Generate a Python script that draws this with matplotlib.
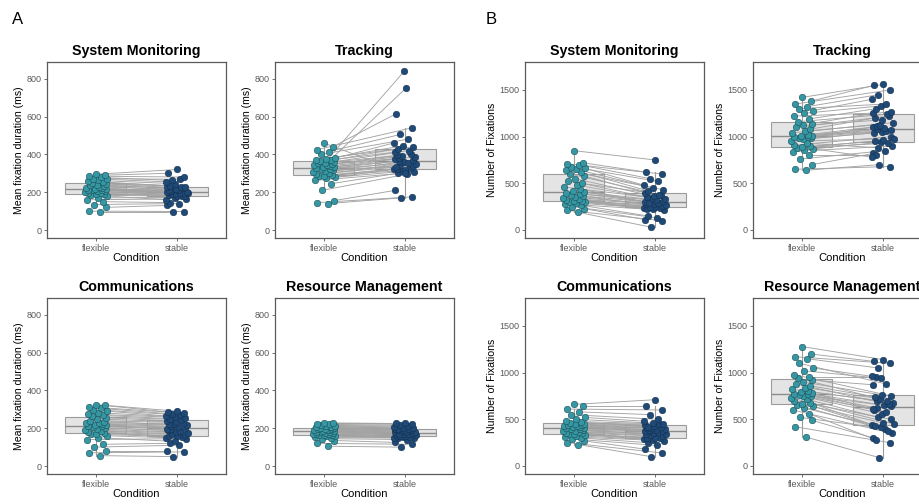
import matplotlib
matplotlib.use("Agg")
import matplotlib.pyplot as plt

plt.rcParams["font.family"] = ["Liberation Sans", "DejaVu Sans"]

conditions = ["flexible", "stable"]

# Panel A: mean fixation duration (ms), paired by participant
sm_dur_flex = [95, 100, 120, 135, 150, 160, 170, 180, 185, 188, 192, 195, 198, 202, 205, 208, 210, 212, 214,
               215, 218, 220, 224, 228, 232, 236, 240, 244, 248, 252, 258, 262, 268, 272, 278, 285, 290, 295]
sm_dur_stab = [95, 98, 130, 140, 145, 165, 172, 160, 178, 182, 185, 180, 190, 195, 188, 200, 198, 204, 196,
               202, 210, 205, 200, 215, 212, 222, 218, 226, 230, 235, 228, 245, 255, 268, 262, 280, 300, 320]

tr_dur_flex = [140, 145, 155, 210, 245, 262, 275, 280, 283, 288, 292, 296, 300, 305, 310, 315, 320, 325, 328,
               332, 335, 338, 342, 345, 348, 352, 356, 360, 364, 368, 372, 376, 380, 400, 415, 425, 440, 460]
tr_dur_stab = [170, 175, 210, 295, 300, 305, 310, 320, 330, 315, 325, 340, 345, 350, 360, 335, 355, 365, 370,
               375, 750, 380, 385, 390, 395, 400, 840, 410, 420, 430, 440, 445, 460, 480, 505, 540, 615, 300]

co_dur_flex = [55, 70, 80, 100, 115, 140, 150, 160, 168, 172, 176, 180, 185, 190, 195, 200, 205, 210, 212,
               215, 218, 222, 226, 230, 235, 240, 248, 255, 262, 268, 275, 282, 290, 298, 305, 312, 320, 325]
co_dur_stab = [50, 75, 80, 110, 120, 145, 130, 150, 155, 160, 158, 165, 170, 175, 180, 190, 185, 195, 200,
               198, 205, 210, 215, 222, 220, 230, 235, 240, 245, 250, 255, 260, 265, 270, 275, 280, 285, 290]

rm_dur_flex = [105, 120, 135, 145, 150, 155, 158, 160, 162, 163, 165, 168, 170, 172, 175, 177, 179, 181, 182,
               184, 186, 188, 190, 192, 194, 196, 198, 200, 202, 205, 208, 210, 213, 216, 220, 224, 228, 230]
rm_dur_stab = [100, 115, 125, 140, 148, 150, 152, 150, 155, 158, 160, 162, 158, 165, 168, 170, 172, 175, 176,
               178, 180, 172, 182, 185, 188, 190, 192, 195, 198, 194, 200, 203, 206, 210, 215, 220, 225, 230]

# Panel B: number of fixations, paired by participant
sm_num_flex = [190, 210, 230, 250, 265, 280, 290, 300, 305, 310, 315, 320, 330, 340, 350, 360, 375, 390, 400,
               408, 420, 440, 460, 480, 500, 520, 550, 580, 600, 620, 640, 650, 660, 680, 700, 710, 720, 850]
sm_num_stab = [30, 100, 110, 130, 150, 210, 230, 240, 235, 250, 220, 260, 245, 270, 280, 275, 290, 300, 310,
               305, 320, 290, 330, 340, 350, 380, 360, 400, 380, 420, 430, 450, 480, 520, 550, 600, 620, 750]

tr_num_flex = [640, 650, 700, 760, 800, 840, 860, 870, 880, 885, 895, 910, 930, 950, 970, 985, 990, 995, 1000,
               1005, 1010, 1020, 1040, 1060, 1080, 1100, 1120, 1140, 1160, 1190, 1220, 1250, 1280, 1300, 1320,
               1350, 1380, 1420]
tr_num_stab = [700, 680, 820, 850, 800, 900, 940, 780, 930, 960, 950, 1000, 880, 980, 1050, 1040, 1060, 1080,
               1070, 1100, 1090, 1110, 1150, 1130, 1200, 1220, 1180, 1250, 1240, 1300, 1260, 1330, 1400, 1350,
               1450, 1500, 1550, 1560]

co_num_flex = [230, 250, 270, 290, 300, 315, 325, 332, 338, 342, 348, 355, 362, 370, 378, 385, 392, 400, 405,
               412, 418, 422, 428, 432, 438, 442, 448, 455, 462, 470, 480, 500, 520, 550, 580, 610, 640, 660]
co_num_stab = [100, 140, 180, 220, 250, 270, 280, 290, 300, 305, 295, 320, 330, 340, 350, 345, 360, 370, 380,
               375, 385, 390, 400, 405, 410, 420, 430, 440, 445, 420, 450, 460, 480, 500, 550, 600, 640, 710]

rm_num_flex = [310, 420, 490, 520, 560, 600, 620, 640, 655, 665, 680, 700, 715, 730, 745, 755, 762, 768, 772,
               780, 790, 800, 820, 840, 860, 880, 900, 920, 940, 950, 980, 1020, 1050, 1100, 1150, 1170, 1200, 1280]
rm_num_stab = [90, 250, 300, 400, 280, 350, 420, 440, 380, 460, 430, 500, 520, 450, 560, 600, 580, 620, 640,
               610, 650, 700, 680, 720, 740, 660, 760, 870, 700, 950, 750, 940, 960, 880, 1050, 1100, 1120, 1140]

# horizontal jitter of the points (fixed so the paired lines stay put)
jitter = [0.05, -0.08, 0.12, -0.02, 0.09, -0.11, 0.03, 0.14, -0.06, 0.00, 0.10, -0.09, 0.06, -0.13, 0.02,
          0.11, -0.04, 0.08, -0.10, 0.13, -0.01, 0.07, -0.12, 0.04, 0.10, -0.07, 0.01, 0.12, -0.05, 0.09,
          -0.10, 0.03, 0.14, -0.03, 0.06, -0.08, 0.11, 0.00]

FLEX_COL = "#3597a3"
STAB_COL = "#1f4a78"
LINE_COL = "#a3a3a3"
BOX_FACE = "#e4e4e4"
BOX_EDGE = "#9c9c9c"
SPINE_COL = "#5a5a5a"


def draw_panel(ax, title, flex, stab, ylabel, ylim, yticks):
    xf = [1 + j for j in jitter[:len(flex)]]
    xs = [2 - j for j in jitter[:len(stab)]]

    ax.boxplot([flex, stab], positions=[1, 2], widths=0.75, patch_artist=True, showfliers=False,
               boxprops=dict(facecolor=BOX_FACE, edgecolor=BOX_EDGE, linewidth=0.8),
               medianprops=dict(color="#8c8c8c", linewidth=1.0),
               whiskerprops=dict(color=BOX_EDGE, linewidth=0.8),
               capprops=dict(linewidth=0), zorder=1)

    for a, b, ya, yb in zip(xf, xs, flex, stab):
        ax.plot([a, b], [ya, yb], color=LINE_COL, linewidth=0.65, zorder=2)

    ax.scatter(xf, flex, s=22, color=FLEX_COL, edgecolors="#1d4f57", linewidths=0.4, zorder=3)
    ax.scatter(xs, stab, s=22, color=STAB_COL, edgecolors="#13304d", linewidths=0.4, zorder=3)

    ax.set_xlim(0.4, 2.6)
    ax.set_ylim(*ylim)
    ax.set_xticks([1, 2])
    ax.set_xticklabels(conditions)
    ax.set_yticks(yticks)
    ax.tick_params(axis="both", labelsize=6.5, labelcolor="#5a5a5a", color=SPINE_COL,
                   length=2, width=0.6, pad=2)
    for sp in ax.spines.values():
        sp.set_color(SPINE_COL)
        sp.set_linewidth(0.9)
    ax.set_title(title, fontsize=10.3, fontweight="bold", pad=5)
    ax.set_xlabel("Condition", fontsize=8, labelpad=0.5)
    ax.set_ylabel(ylabel, fontsize=7.6, labelpad=2)


fig = plt.figure(figsize=(9.19, 5.04), dpi=100)
W, H = 919, 504


def add_axes(left, top, width=179, height=176):
    return fig.add_axes([left / W, (H - top - height) / H, width / W, height / H])


dur_label = "Mean fixation duration (ms)"
num_label = "Number of Fixations"
dur_lim, dur_ticks = (-42, 888), [0, 200, 400, 600, 800]
num_lim, num_ticks = (-86, 1800), [0, 500, 1000, 1500]

draw_panel(add_axes(47, 62), "System Monitoring", sm_dur_flex, sm_dur_stab, dur_label, dur_lim, dur_ticks)
draw_panel(add_axes(275, 62), "Tracking", tr_dur_flex, tr_dur_stab, dur_label, dur_lim, dur_ticks)
draw_panel(add_axes(47, 298), "Communications", co_dur_flex, co_dur_stab, dur_label, dur_lim, dur_ticks)
draw_panel(add_axes(275, 298), "Resource Management", rm_dur_flex, rm_dur_stab, dur_label, dur_lim, dur_ticks)

draw_panel(add_axes(525, 62), "System Monitoring", sm_num_flex, sm_num_stab, num_label, num_lim, num_ticks)
draw_panel(add_axes(753, 62), "Tracking", tr_num_flex, tr_num_stab, num_label, num_lim, num_ticks)
draw_panel(add_axes(525, 298), "Communications", co_num_flex, co_num_stab, num_label, num_lim, num_ticks)
draw_panel(add_axes(753, 298), "Resource Management", rm_num_flex, rm_num_stab, num_label, num_lim, num_ticks)

fig.text(12 / W, 1 - 20 / H, "A", fontsize=12, va="center", ha="left")
fig.text(486 / W, 1 - 20 / H, "B", fontsize=12, va="center", ha="left")

fig.savefig("out.png", dpi=100)
